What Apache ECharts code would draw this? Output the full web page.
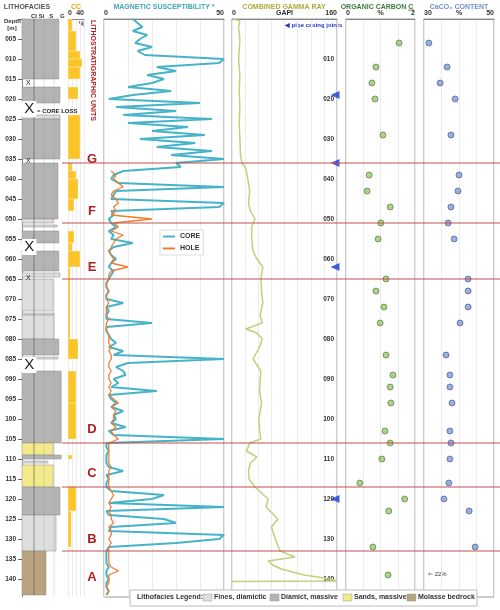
<!DOCTYPE html>
<html><head><meta charset="utf-8">
<script src="https://cdn.jsdelivr.net/npm/echarts@6/dist/echarts.min.js"></script>
<style>html,body{margin:0;padding:0;background:#fff}#chart{width:500px;height:610px}</style>
</head><body><div id="chart"></div>
<script>
// depth axis
const depthMin = 0, depthMax = 144.5;

// lithofacies intervals: [top, bottom, width (0-100), type]
// type 0 fines, 1 diamict, 2 sands, 3 molasse
const lithoIntervals = [
    [0, 15, 92, 1], [17, 21, 95, 1], [24, 25, 95, 0], [25, 35, 95, 1],
    [36, 50, 90, 1], [50, 51, 78, 0], [51.5, 52, 88, 0], [53, 56, 92, 1],
    [58, 63, 92, 1], [63.5, 64.5, 95, 0], [65, 73, 78, 0], [73.5, 74, 80, 0],
    [74, 80, 80, 0], [80, 84, 92, 1], [84.5, 85, 90, 0], [88, 106, 98, 1],
    [106, 109, 78, 2], [109, 110, 98, 1], [110.5, 111, 65, 0], [111.5, 117, 78, 2],
    [117, 124, 95, 1], [124, 133, 85, 0], [133, 144, 60, 3]
];
const coreLoss = [[22.5, 'big'], [57, 'big'], [86.5, 'big'], [16, 'small'], [35.6, 'small'], [64.7, 'small']];

// CC content %: [top, bottom, value]
const ccBands = [
    [0, 3, 10], [3, 8, 20], [8, 10, 30], [10, 12, 35], [12, 15, 30], [17, 20, 25],
    [24, 35, 30], [36, 38, 10], [38, 40, 20], [40, 45, 25], [45, 48, 15],
    [53, 56, 15], [56, 58, 10], [58, 62, 30], [62, 80, 5], [80, 85, 25],
    [88, 96, 20], [96, 105, 20], [109, 110, 10], [117, 123, 20], [123, 132, 8]
];

// magnetic susceptibility, 1 m steps
const magCore = [
    12, 14, 16, 12, 18, 15, 13, 20, 14, 17,
    50, 48, 22, 30, 18, 25, 20, 10, 28, 12,
    2, 40, 5, 30, 8, 45, 10, 35, 20, 42,
    15, 38, 22, 45, 28, 50, 30, 32, 8, 4,
    3, 6, 50, 5, 4, 3, 50, 48, 3, 4,
    2, 3, 5, 2, 4, 3, 12, 4, 2, 3,
    5, 3, 2, 4, 3, 2, 1, 1, 2, 1,
    1, 8, 1, 2, 1, 1, 20, 1, 1, 2,
    3, 5, 2, 8, 4, 50, 10, 5, 8, 9,
    4, 6, 3, 22, 2, 3, 5, 3, 8, 4,
    5, 3, 9, 2, 4, 50, 1, 1, 2, 1,
    1, 1, 2, 8, 1, 2, 1, 1, 3, 25,
    20, 2, 50, 1, 2, 25, 30, 3, 2, 50,
    48, 30, 2, 1, 1, 1, 1, 2, 1, 1,
    2, 1, 1, 2, 1
];
const magHoleStart = 38;
const magHole = [
    3, 5,
    4, 6, 8, 4, 3, 5, 6, 4, 5, 3,
    20, 4, 6, 3, 8, 5, 4, 3, 2, 3,
    4, 3, 10, 3, 2, 2, 1, 1, 2, 1,
    1, 2, 1, 1, 1, 2, 1, 1, 1, 2,
    2, 2, 3, 2, 3, 3, 2, 2, 3, 2,
    2, 3, 2, 3, 2, 4, 6, 3, 5, 4,
    4, 3, 5, 3, 4, 6, 2, 2, 2, 2,
    2, 2, 3, 2, 2, 2, 2, 2, 3, 4,
    3, 2, 3, 2, 3, 3, 4, 2, 3, 3,
    2, 3, 2, 2, 2, 2, 2, 3, 6, 2,
    2, 2, 1, 2, 1
];

// gamma ray [depth, GAPI]
const gamma = [
    [0, 2], [0.5, 12], [2, 10], [5, 12], [8, 11], [10, 10], [14, 12], [18, 11], [22, 12], [26, 11],
    [30, 12], [34, 13], [36, 15], [37, 20], [38, 22], [40, 24], [43, 27], [46, 25], [48, 28], [50, 35],
    [52, 30], [55, 30], [58, 32], [60, 38], [62, 47], [65, 44], [68, 45], [71, 47], [74, 43], [76, 46],
    [77.5, 21], [78.5, 38], [80, 46], [82, 42], [85, 32], [88, 44], [90, 43], [93, 42], [96, 45], [100, 41],
    [103, 42], [105, 44], [106, 27], [108, 22], [109.5, 38], [111, 28], [113, 25], [115, 26], [117, 35], [120, 55],
    [122, 52], [125, 70], [127, 60], [130, 66], [133, 73], [134.5, 96], [135.5, 55], [136.5, 62], [137.5, 75], [139, 110],
    [140, 150], [140.5, 160], [140.6, 0]
];
const casingJoints = [19, 36, 62, 120];

// organic carbon % [depth, value]
const orgCarbon = [
    [6, 1.54], [12, 0.87], [16, 0.75], [20, 0.84], [29, 1.07], [39, 0.67], [43, 0.61], [47, 1.28],
    [51, 1.01], [55, 0.93], [65, 1.16], [68, 0.87], [72, 1.1], [76, 0.99], [84, 1.16], [89, 1.36],
    [92, 1.28], [96, 1.3], [103, 1.13], [106, 1.28], [110, 1.04], [116, 0.4], [120, 1.7], [123, 1.24],
    [132, 0.78], [139, 1.22]
];
// CaCO3 % [depth, value]
const caco3 = [
    [6, 31.4], [12, 36.6], [16, 34.6], [20, 38.9], [29, 37.7], [39, 40], [43, 39.7], [47, 37.7],
    [51, 36.9], [55, 38.6], [65, 42.6], [68, 42.6], [72, 42.6], [76, 40.3], [84, 36.3], [89, 37.4],
    [92, 37.4], [96, 38], [103, 37.4], [106, 37.7], [110, 37.4], [116, 37.1], [120, 35.7], [123, 42.9],
    [132, 44.6]
];

// lithostratigraphic units
const unitBoundaries = [36, 51, 65, 106, 117, 133];
const unitLabels = [['G', 35], ['F', 48], ['E', 62], ['D', 102.5], ['C', 113.5], ['B', 130], ['A', 139.5]];

const lithoColors = ['#dedede', '#b4b4b4', '#f3ea8c', '#b9a47e'];
const gridTop = 19, gridBottom = 13;
const FONT = 'Liberation Sans';
const pad3 = v => String(v).padStart(3, '0');

const panels = [
    { left: 22, width: 40, min: 0, max: 100 },
    { left: 68, width: 16, min: 0, max: 40 },
    { left: 104, width: 120, min: 0, max: 50 },
    { left: 232, width: 105, min: 0, max: 160 },
    { left: 346, width: 69, min: 0, max: 2 },
    { left: 424, width: 70, min: 30, max: 50 },
    { left: 62, width: 438, min: 0, max: 1 }
];

const grid = panels.map((p, i) => ({
    left: p.left, width: p.width, top: gridTop, bottom: gridBottom,
    show: i >= 2 && i <= 5, borderColor: '#999', borderWidth: 1
}));

const axisTopLabels = [
    null,
    v => (v === 0 || v === 40) ? v : '',
    v => (v === 0 || v === 50) ? v : '',
    v => (v === 0 || v === 160) ? v : (v === 80 ? 'GAPI' : ''),
    v => (v === 0 || v === 2) ? v : (v === 1 ? '%' : ''),
    v => (v === 30 || v === 50) ? v : (v === 40 ? '%' : ''),
    null
];
const intervals = [25, 10, 10, 20, 0.5, 5, 1];

const xAxis = panels.map((p, i) => ({
    gridIndex: i, type: 'value', position: 'top', min: p.min, max: p.max, interval: intervals[i],
    show: i !== 6,
    axisLine: { show: i !== 0, lineStyle: { color: '#888' } },
    axisTick: { show: false },
    axisLabel: {
        show: i !== 0, margin: 2, fontSize: 7, fontFamily: FONT, fontWeight: 'bold', color: '#333',
        alignMinLabel: 'left', alignMaxLabel: 'right',
        formatter: axisTopLabels[i] || (() => '')
    },
    splitLine: { show: i >= 1 && i <= 5, lineStyle: { color: '#ececec', width: 1 } }
}));

const yAxis = panels.map((p, i) => ({
    gridIndex: i, type: 'value', inverse: true, min: depthMin, max: depthMax, interval: 5,
    show: i === 0 || i === 3,
    position: i === 3 ? 'right' : 'left',
    axisLine: { show: i === 0, lineStyle: { color: '#888' } },
    axisTick: { show: i === 0, length: 4, lineStyle: { color: '#666' } },
    axisLabel: {
        show: true, inside: i === 3, margin: i === 3 ? 3 : 6, fontSize: 6.5,
        fontFamily: FONT, fontWeight: 'bold', color: '#333', showMaxLabel: false,
        formatter: v => (v === 0 || v % 5 !== 0) ? '' : (i === 3 ? (v % 10 === 0 ? pad3(v) : '') : pad3(v))
    },
    splitLine: { show: false }
}));

const series = [];

// lithofacies column
series.push({
    type: 'custom', xAxisIndex: 0, yAxisIndex: 0, silent: true,
    data: lithoIntervals,
    renderItem: (params, api) => {
        const p0 = api.coord([0, api.value(0)]);
        const p1 = api.coord([api.value(2), api.value(1)]);
        const t = api.value(3);
        return {
            type: 'rect',
            shape: { x: p0[0], y: p0[1], width: p1[0] - p0[0], height: p1[1] - p0[1] },
            style: { fill: lithoColors[t], stroke: '#8a8a8a', lineWidth: 0.5 }
        };
    }
});
// grain-size guide lines on litho column
series.push({
    type: 'custom', xAxisIndex: 0, yAxisIndex: 0, silent: true, z: 3,
    data: [[30], [55], [80]],
    renderItem: (params, api) => {
        const a = api.coord([api.value(0), depthMin]);
        const b = api.coord([api.value(0), 144]);
        return { type: 'line', shape: { x1: a[0], y1: a[1], x2: b[0], y2: b[1] },
            style: { stroke: params.dataIndex === 0 ? '#555' : 'rgba(150,150,150,0.5)', lineWidth: 0.6 } };
    }
});
// core loss markers
series.push({
    type: 'custom', xAxisIndex: 0, yAxisIndex: 0, silent: true, z: 4,
    data: coreLoss.map(c => [c[0], c[1] === 'big' ? 1 : 0]),
    renderItem: (params, api) => {
        const big = api.value(1) === 1;
        const c = api.coord([big ? 18 : 16, api.value(0)]);
        const children = [];
        if (big) {
            const r = api.coord([0, api.value(0) - 2]);
            const r2 = api.coord([36, api.value(0) + 2]);
            children.push({ type: 'rect', shape: { x: r[0], y: r[1], width: r2[0] - r[0], height: r2[1] - r[1] }, style: { fill: '#fff' } });
        }
        children.push({ type: 'text', x: c[0], y: c[1], style: { text: 'X', fontSize: big ? 15 : 7, fontFamily: FONT, fill: '#222', align: 'center', verticalAlign: 'middle' } });
        return { type: 'group', children };
    }
});

// CC bars
series.push({
    type: 'custom', xAxisIndex: 1, yAxisIndex: 1, silent: true,
    data: ccBands,
    renderItem: (params, api) => {
        const p0 = api.coord([0, api.value(0)]);
        const p1 = api.coord([api.value(2), api.value(1)]);
        return { type: 'rect', shape: { x: p0[0], y: p0[1], width: p1[0] - p0[0], height: p1[1] - p0[1] },
            style: { fill: '#fbc52a', stroke: '#fff', lineWidth: 0.3 } };
    }
});

// magnetic susceptibility
series.push({
    name: 'CORE', type: 'line', xAxisIndex: 2, yAxisIndex: 2, symbol: 'none',
    lineStyle: { color: '#46b3c8', width: 2 }, itemStyle: { color: '#46b3c8' },
    data: magCore.map((v, i) => [v, i])
});
series.push({
    name: 'HOLE', type: 'line', xAxisIndex: 2, yAxisIndex: 2, symbol: 'none',
    lineStyle: { color: '#f07b2f', width: 1.3 }, itemStyle: { color: '#f07b2f' },
    data: magHole.map((v, i) => [v, magHoleStart + i])
});

// gamma ray
series.push({
    type: 'line', xAxisIndex: 3, yAxisIndex: 3, symbol: 'none',
    lineStyle: { color: '#c3cf7a', width: 1.5 },
    data: gamma.map(g => [g[1], g[0]])
});
series.push({
    type: 'scatter', xAxisIndex: 3, yAxisIndex: 3, symbol: 'triangle', symbolRotate: 90,
    symbolSize: [8, 9], symbolOffset: [-2, 0], itemStyle: { color: '#1737d6' },
    data: casingJoints.map(d => [160, d])
});

// organic carbon and CaCO3
series.push({
    type: 'scatter', xAxisIndex: 4, yAxisIndex: 4, symbolSize: 6,
    itemStyle: { color: '#97c96a', borderColor: '#4f6b38', borderWidth: 0.8 },
    data: orgCarbon.map(o => [o[1], o[0]])
});
series.push({
    type: 'scatter', xAxisIndex: 5, yAxisIndex: 5, symbolSize: 6,
    itemStyle: { color: '#7f9bdc', borderColor: '#3d4f80', borderWidth: 0.8 },
    data: caco3.map(o => [o[1], o[0]])
});

// unit boundaries
series.push({
    type: 'custom', xAxisIndex: 6, yAxisIndex: 6, silent: true, z: 5,
    data: unitBoundaries.map(d => [d]),
    renderItem: (params, api) => {
        const a = api.coord([0, api.value(0)]);
        const b = api.coord([1, api.value(0)]);
        return { type: 'line', shape: { x1: a[0], y1: a[1], x2: b[0], y2: b[1] }, style: { stroke: '#c0504d', lineWidth: 1 } };
    }
});
// unit letters
series.push({
    type: 'custom', xAxisIndex: 6, yAxisIndex: 6, silent: true, z: 6,
    data: unitLabels.map(u => [u[1], u[0]]),
    renderItem: (params, api) => {
        const c = api.coord([0.0685, api.value(0)]);
        return { type: 'text', x: c[0], y: c[1], style: { text: unitLabels[params.dataIndex][0], fontSize: 13, fontWeight: 'bold', fontFamily: FONT, fill: '#b01f24', align: 'center', verticalAlign: 'middle' } };
    }
});

const titleStyle = (text, color) => ({ text, fontSize: 7, fontWeight: 'bold', fontFamily: FONT, fill: color, align: 'center' });
const legendItems = [['Fines, diamictic', 0, 214], ['Diamict, massive', 1, 281], ['Sands, massive', 2, 354], ['Molasse bedrock', 3, 418]];

const graphic = [
    { type: 'text', x: 27, y: 4, style: titleStyle('LITHOFACIES', '#555') },
    { type: 'text', x: 76, y: 4, style: titleStyle('CC', '#e6a619') },
    { type: 'text', x: 164, y: 4, style: titleStyle('MAGNETIC SUSCEPTIBILITY *', '#3fa6b6') },
    { type: 'text', x: 284, y: 4, style: titleStyle('COMBINED GAMMA RAY', '#a9ad3a') },
    { type: 'text', x: 377, y: 4, style: titleStyle('ORGANIC CARBON C', '#3d7a3d') },
    { type: 'text', x: 408, y: 8, style: { text: 'org', fontSize: 4, fill: '#3d7a3d', fontFamily: FONT } },
    { type: 'text', x: 459, y: 4, style: titleStyle('CaCO₃ CONTENT', '#6f8fd6') },
    { type: 'text', x: 31, y: 13, style: { text: 'Cl Si   S    G', fontSize: 6, fontWeight: 'bold', fontFamily: FONT, fill: '#333' } },
    { type: 'text', x: 4, y: 18, style: { text: 'Depth\n  [m]', fontSize: 6, fontWeight: 'bold', lineHeight: 7, fontFamily: FONT, fill: '#333' } },
    { type: 'text', x: 79, y: 21, style: { text: '%', fontSize: 6.5, fontWeight: 'bold', fontFamily: FONT, fill: '#333' } },
    { type: 'text', x: 96, y: 20, rotation: -Math.PI / 2, style: { text: 'LITHOSTRATIGRAPHIC UNITS', fontSize: 7, fontWeight: 'bold', fontFamily: FONT, fill: '#b01f24' } },
    { type: 'text', x: 37, y: 108, z: 20, style: { text: '= CORE LOSS', fontSize: 6, fontWeight: 'bold', fontFamily: FONT, fill: '#222', backgroundColor: '#fff' } },
    { type: 'text', x: 285, y: 22, style: { text: '◀ pipe casing joints', fontSize: 6, fontWeight: 'bold', fontFamily: FONT, fill: '#1737d6' } },
    { type: 'text', x: 428, y: 571, style: { text: '⇐ 22%', fontSize: 6, fontFamily: FONT, fill: '#333' } },
    { type: 'rect', x: 130, y: 590, z: 10, shape: { width: 347, height: 16 }, style: { fill: '#fff', stroke: '#bbb', lineWidth: 1 } },
    { type: 'text', x: 137, y: 594, z: 11, style: { text: 'Lithofacies Legend:', fontSize: 7, fontWeight: 'bold', fontFamily: FONT, fill: '#333' } }
];
legendItems.forEach(li => {
    graphic.push({ type: 'rect', x: li[2] - 11, y: 594, z: 11, shape: { width: 9, height: 7 }, style: { fill: lithoColors[li[1]], stroke: '#999', lineWidth: 0.5 } });
    graphic.push({ type: 'text', x: li[2], y: 594, z: 11, style: { text: li[0], fontSize: 7, fontWeight: 'bold', fontFamily: FONT, fill: '#333' } });
});

const chart = echarts.init(document.getElementById('chart'));
chart.setOption({
    animation: false,
    backgroundColor: '#fff',
    grid, xAxis, yAxis, series, graphic,
    legend: {
        data: ['CORE', 'HOLE'], orient: 'vertical', left: 160, top: 230,
        itemWidth: 12, itemHeight: 2, itemGap: 5, icon: 'rect',
        backgroundColor: '#fff', borderColor: '#ddd', borderWidth: 1, padding: 3,
        textStyle: { fontSize: 7, fontWeight: 'bold', fontFamily: FONT, color: '#333' }
    }
});
</script></body></html>
